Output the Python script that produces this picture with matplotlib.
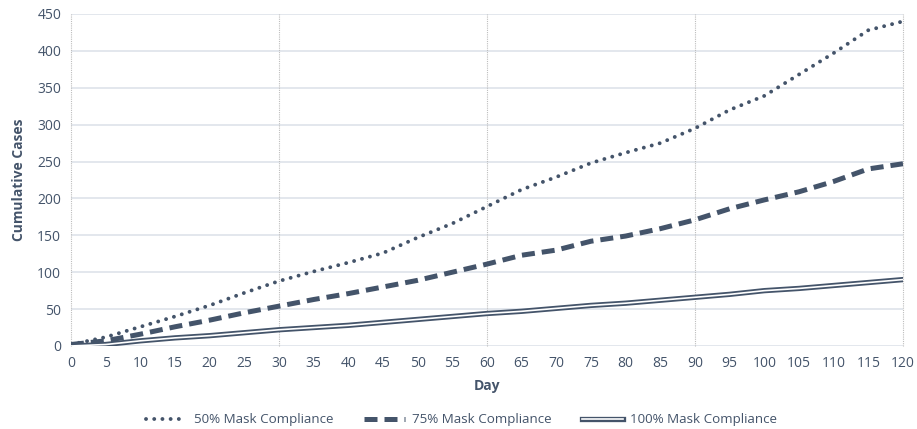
import matplotlib
matplotlib.use("Agg")
import matplotlib.pyplot as plt
import matplotlib.patheffects as pe

# Cumulative cases by day for three mask-compliance scenarios
days = [0, 5, 10, 15, 20, 25, 30, 35, 40, 45, 50, 55, 60,
        65, 70, 75, 80, 85, 90, 95, 100, 105, 110, 115, 120]
cases_50 = [2, 12, 26, 40, 55, 72, 88, 101, 113, 126, 147, 166, 189,
            212, 229, 248, 262, 275, 295, 320, 339, 368, 397, 428, 440]
cases_75 = [2, 7, 16, 26, 35, 45, 54, 63, 71, 80, 89, 100, 111,
            123, 130, 142, 149, 159, 171, 186, 198, 209, 223, 240, 247]
cases_100 = [0, 2, 7, 11, 14, 18, 22, 25, 28, 32, 36, 40, 44,
             47, 51, 55, 58, 62, 66, 70, 75, 78, 82, 86, 90]

labels = ["50% Mask Compliance", "75% Mask Compliance", "100% Mask Compliance"]
x_ticks = list(range(0, 121, 5))
y_ticks = list(range(0, 451, 50))
major_days = [0, 30, 60, 90, 120]

line_col = "#44546A"
text_col = "#44546A"
grid_col = "#E1E5EC"

plt.rcParams["font.family"] = ["Open Sans", "DejaVu Sans"]

fig = plt.figure(figsize=(9.17, 4.29), dpi=100)
ax = fig.add_axes([0.0774, 0.1935, 0.9073, 0.7739])

for y in y_ticks:
    ax.axhline(y, color=grid_col, lw=1.3, zorder=0)
for d in major_days:
    ax.axvline(d, color="#BDBDBD", lw=0.8, ls=(0, (1, 1)), zorder=0.5, clip_on=False)

l1, = ax.plot(days, cases_50, color=line_col, lw=2.8,
              dashes=(0.01, 2.1), dash_capstyle="round", label=labels[0])
l2, = ax.plot(days, cases_75, color=line_col, lw=3.6,
              dashes=(2.6, 1.4), dash_capstyle="butt", label=labels[1])
l3, = ax.plot(days, cases_100, color="white", lw=1.2, label=labels[2],
              path_effects=[pe.Stroke(linewidth=3.8, foreground=line_col), pe.Normal()])

ax.set_xlim(0, 120)
ax.set_ylim(0, 450)
ax.set_xticks(x_ticks)
ax.set_yticks(y_ticks)
ax.tick_params(length=0, labelsize=10, colors=text_col, pad=7)
for s in ax.spines.values():
    s.set_visible(False)

ax.set_xlabel("Day", fontsize=10, fontweight="bold", color=text_col, labelpad=6)
ax.set_ylabel("Cumulative Cases", fontsize=10, fontweight="bold", color=text_col, labelpad=8)

fig.legend(handles=[l1, l2, l3], loc="center", bbox_to_anchor=(0.503, 1 - 420 / 429),
           ncol=3, frameon=False, fontsize=9.6, labelcolor=text_col,
           handlelength=3.1, handletextpad=0.5, columnspacing=2.3)

fig.savefig("out.png", dpi=100)
